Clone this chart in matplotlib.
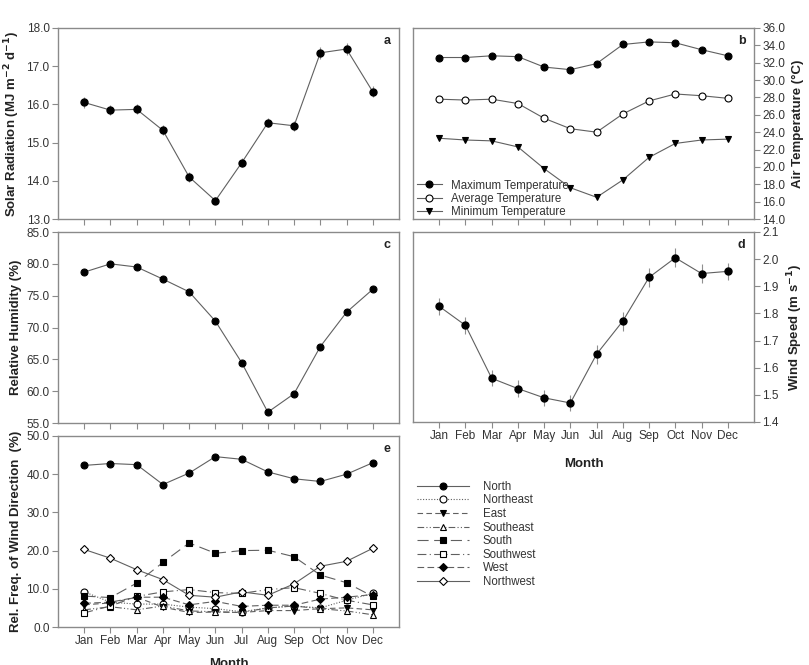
import numpy as np
import matplotlib.pyplot as plt
from matplotlib.ticker import FormatStrFormatter

plt.rcParams['font.family'] = ['Liberation Sans', 'DejaVu Sans']

months = ['Jan', 'Feb', 'Mar', 'Apr', 'May', 'Jun', 'Jul', 'Aug', 'Sep', 'Oct', 'Nov', 'Dec']

# panel a
solar = [16.05, 15.85, 15.87, 15.32, 14.10, 13.48, 14.47, 15.52, 15.44, 17.35, 17.45, 16.33]
solar_err = [0.15, 0.14, 0.13, 0.13, 0.12, 0.10, 0.12, 0.12, 0.13, 0.16, 0.15, 0.14]

# panel b
t_max = [32.6, 32.6, 32.8, 32.7, 31.5, 31.2, 31.9, 34.1, 34.4, 34.3, 33.5, 32.8]
t_avg = [27.8, 27.7, 27.8, 27.3, 25.6, 24.4, 24.0, 26.1, 27.6, 28.4, 28.2, 27.9]
t_min = [23.3, 23.1, 23.0, 22.3, 19.8, 17.6, 16.5, 18.5, 21.1, 22.7, 23.1, 23.2]

# panel c
rh = [78.7, 80.0, 79.5, 77.6, 75.6, 71.0, 64.5, 56.7, 59.6, 67.0, 72.4, 76.0]

# panel d
wind = [1.826, 1.756, 1.561, 1.523, 1.489, 1.470, 1.650, 1.772, 1.933, 2.005, 1.947, 1.955]
wind_err = [0.03, 0.03, 0.03, 0.03, 0.03, 0.03, 0.035, 0.035, 0.035, 0.035, 0.035, 0.03]

# panel e
north = [42.3, 42.8, 42.5, 37.3, 40.3, 44.6, 43.9, 40.6, 38.8, 38.1, 40.0, 43.0]
northeast = [9.2, 6.5, 6.0, 6.0, 5.2, 4.8, 4.0, 5.0, 5.5, 5.0, 7.0, 8.8]
east = [5.8, 6.3, 7.8, 5.2, 3.8, 3.9, 3.8, 4.3, 4.3, 4.8, 5.0, 4.5]
southeast = [4.5, 5.3, 4.5, 5.5, 4.2, 4.0, 3.8, 5.0, 5.5, 4.8, 4.2, 3.2]
south = [8.1, 7.7, 11.5, 16.9, 22.0, 19.3, 20.0, 20.1, 18.4, 13.6, 11.6, 8.0]
southwest = [3.7, 5.5, 8.0, 9.2, 9.8, 9.0, 8.8, 9.8, 10.3, 8.8, 7.0, 5.8]
west = [6.2, 6.5, 7.8, 7.8, 5.8, 6.7, 5.4, 5.7, 5.7, 7.3, 7.8, 8.5]
northwest = [20.3, 18.0, 15.0, 12.4, 8.3, 7.8, 9.2, 8.3, 11.3, 15.9, 17.2, 20.6]

x = np.arange(1, 13)
spine_c = '#8a8a8a'
text_c = '#333333'
line_c = '#606060'

fig = plt.figure(figsize=(8.09, 6.65), dpi=100)
W, H = 809, 665


def make_ax(l, t, r, b):
    return fig.add_axes([l / W, 1 - b / H, (r - l) / W, (b - t) / H])


def style(ax, right=False, xlabels=False):
    for s in ax.spines.values():
        s.set_color(spine_c)
        s.set_linewidth(1.0)
    ax.set_xlim(0, 13)
    ax.set_xticks(x)
    if xlabels:
        ax.set_xticklabels(months)
    else:
        ax.set_xticklabels([])
    ax.tick_params(axis='both', direction='out', length=4, width=0.8, color=spine_c,
                   labelsize=8.5, labelcolor=text_c, pad=2)
    if right:
        ax.yaxis.tick_right()
        ax.yaxis.set_label_position('right')
    ax.yaxis.set_major_formatter(FormatStrFormatter('%.1f'))


def letter(ax, s):
    ax.text(0.975, 0.93, s, transform=ax.transAxes, ha='right', va='center',
            fontsize=9, fontweight='bold', color='#222222')


lab = dict(fontsize=9.5, fontweight='bold', color='#222222')
mk = dict(markersize=5, markeredgewidth=0.8, markeredgecolor='black', lw=0.8, color=line_c)

# a
ax = make_ax(58, 28, 399, 219)
ax.errorbar(x, solar, yerr=solar_err, fmt='o', ecolor='#909090', elinewidth=0.8, capsize=0,
            markerfacecolor='black', markeredgecolor='black', markersize=5, color='black', zorder=3)
ax.plot(x, solar, '-', lw=0.8, color=line_c, zorder=2)
ax.set_ylim(13, 18)
ax.set_yticks(np.arange(13, 18.1, 1))
style(ax)
letter(ax, 'a')
ax.set_ylabel('Solar Radiation (MJ m$^{\\mathbf{-2}}$ d$^{\\mathbf{-1}}$)', labelpad=3, **lab)

# b
ax = make_ax(413, 28, 754, 219)
ax.plot(x, t_max, 'o-', markerfacecolor='black', label='Maximum Temperature', **mk)
ax.plot(x, t_avg, 'o-', markerfacecolor='white', label='Average Temperature', **mk)
ax.plot(x, t_min, 'v-', markerfacecolor='black', label='Minimum Temperature', **mk)
ax.set_ylim(14, 36)
ax.set_yticks(np.arange(14, 36.1, 2))
style(ax, right=True)
letter(ax, 'b')
ax.set_ylabel('Air Temperature (°C)', labelpad=5, **lab)
ax.legend(loc='lower left', bbox_to_anchor=(-0.01, -0.03), frameon=False, fontsize=8.3,
          handlelength=2.2, handletextpad=0.8, labelspacing=0.1, borderaxespad=0.2,
          labelcolor=text_c)

# c
ax = make_ax(58, 232, 399, 423)
ax.plot(x, rh, 'o-', markerfacecolor='black', **mk)
ax.set_ylim(55, 85)
ax.set_yticks(np.arange(55, 85.1, 5))
style(ax)
letter(ax, 'c')
ax.set_ylabel('Relative Humidity (%)', labelpad=3, **lab)

# d
ax = make_ax(413, 232, 754, 422)
ax.errorbar(x, wind, yerr=wind_err, fmt='o', ecolor='#909090', elinewidth=0.8, capsize=0,
            markerfacecolor='black', markeredgecolor='black', markersize=5, color='black', zorder=3)
ax.plot(x, wind, '-', lw=0.8, color=line_c, zorder=2)
ax.set_ylim(1.4, 2.1)
ax.set_yticks(np.arange(1.4, 2.11, 0.1))
style(ax, right=True, xlabels=True)
letter(ax, 'd')
ax.set_ylabel('Wind Speed (m s$^{\\mathbf{-1}}$)', labelpad=5, **lab)
ax.set_xlabel('Month', fontsize=9.5, fontweight='bold', color='#222222', labelpad=11)

# e
ax = make_ax(58, 436, 399, 627)
series = [
    ('North', north, 'o', 'black', '-'),
    ('Northeast', northeast, 'o', 'white', (0, (1, 1.5))),
    ('East', east, 'v', 'black', (0, (5, 3))),
    ('Southeast', southeast, '^', 'white', (0, (6, 2, 1, 2, 1, 2))),
    ('South', south, 's', 'black', (0, (10, 5))),
    ('Southwest', southwest, 's', 'white', (0, (8, 3, 1, 3))),
    ('West', west, 'D', 'black', (0, (6, 3))),
    ('Northwest', northwest, 'D', 'white', '-'),
]
for name, vals, m, fc, ls in series:
    ms = 4.2 if m == 'D' else 5
    ax.plot(x, vals, marker=m, markerfacecolor=fc, markeredgecolor='black', markeredgewidth=0.8,
            markersize=ms, lw=0.8, color=line_c, linestyle=ls, label=name)
ax.set_ylim(0, 50)
ax.set_yticks(np.arange(0, 50.1, 10))
style(ax, xlabels=True)
letter(ax, 'e')
ax.set_ylabel('Rel. Freq. of Wind Direction  (%)', labelpad=3, **lab)
ax.set_xlabel('Month', fontsize=9.5, fontweight='bold', color='#222222', labelpad=8)
ax.legend(loc='upper left', bbox_to_anchor=(1.04, 0.79), frameon=False,
          fontsize=8.3, handlelength=4.5, handletextpad=1.2, labelspacing=0.14,
          borderaxespad=0, labelcolor=text_c)

fig.savefig('out.png', dpi=100)
